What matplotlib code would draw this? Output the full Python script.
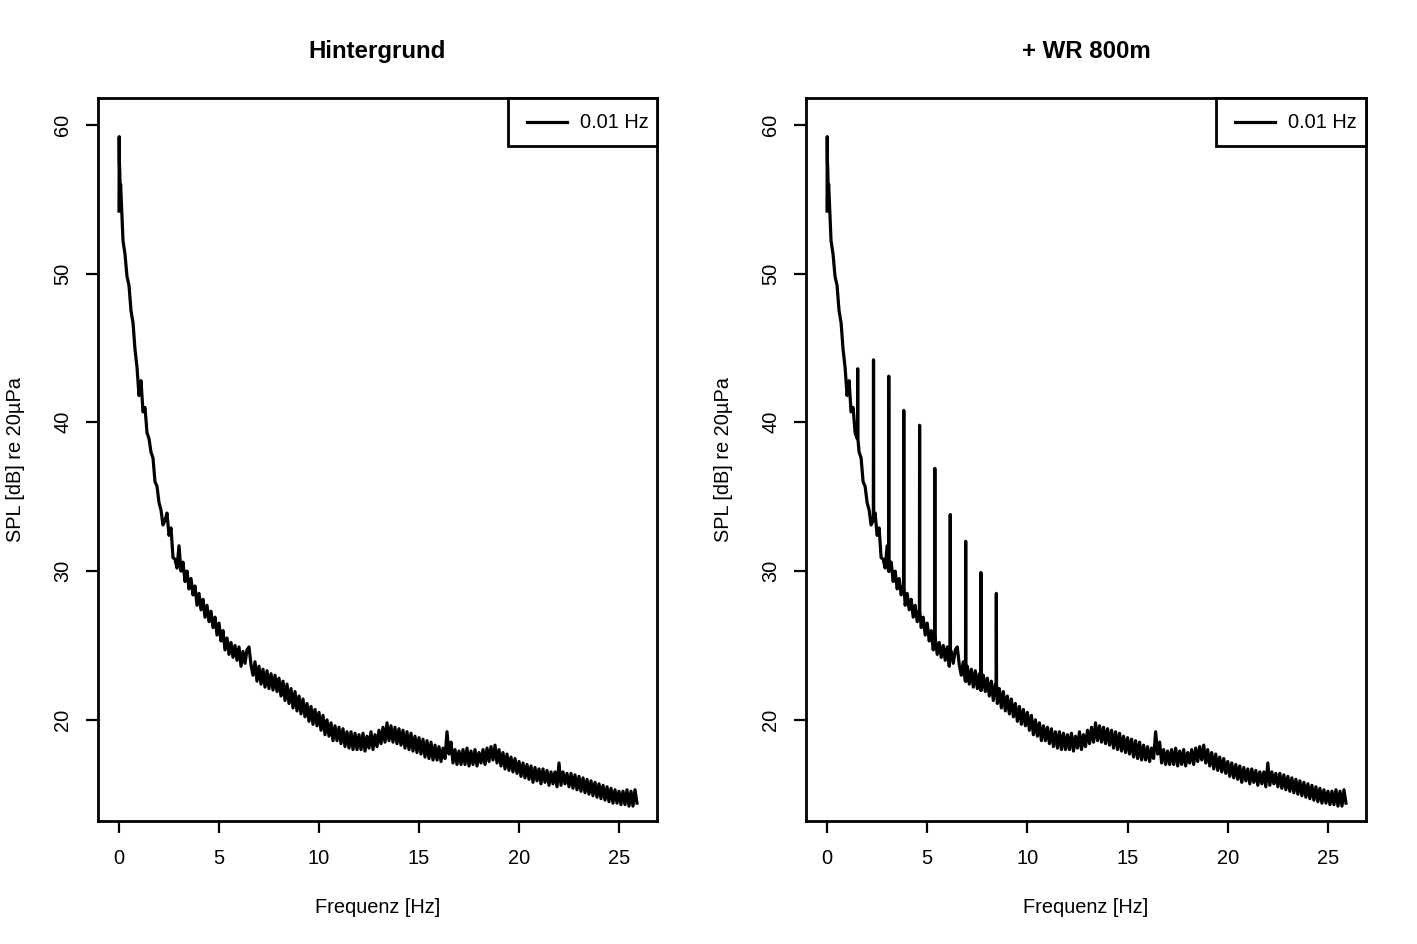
import numpy as np
import matplotlib
matplotlib.use("Agg")
import matplotlib.pyplot as plt
from matplotlib.lines import Line2D
from matplotlib.patches import Rectangle

plt.rcParams['font.family'] = ['Liberation Sans', 'DejaVu Sans']

# --- data ---
titles = ["Hintergrund", "+ WR 800m"]
legend_label = "0.01 Hz"
x_label = "Frequenz [Hz]"
y_label = "SPL [dB] re 20µPa"
x_ticks = [0, 5, 10, 15, 20, 25]
y_ticks = [20, 30, 40, 50, 60]

# lowest bins (Hz, dB)
low_freq = [0.00, 0.01, 0.02, 0.04, 0.06, 0.08]
low_level = [54.2, 59.2, 57.5, 56.8, 55.5, 56.0]

# background spectrum sampled every 0.1 Hz from 0.1 Hz upward
base_level = [
    55.4, 52.2, 51.3, 49.8, 49.2, 47.5, 46.7, 44.9, 43.7, 41.8,
    42.8, 40.7, 41.0, 39.3, 38.9, 38.0, 37.6, 36.0, 35.7, 34.6,
    34.1, 33.1, 33.4, 33.9, 32.4, 32.9, 30.9, 30.8, 30.2, 31.7,
    30.0, 30.6, 29.3, 30.0, 28.8, 29.5, 28.4, 29.0, 27.7, 28.5,
    27.4, 28.1, 26.9, 27.7, 26.6, 27.3, 26.2, 26.9, 25.7, 26.5,
    25.3, 26.0, 24.7, 25.5, 24.4, 25.2, 24.2, 25.0, 24.0, 24.9,
    23.6, 24.6, 23.8, 24.7, 24.9, 23.7, 23.0, 23.9, 22.6, 23.6,
    22.4, 23.4, 22.2, 23.3, 22.1, 23.1, 22.0, 23.0, 21.9, 22.8,
    21.6, 22.6, 21.3, 22.4, 21.1, 22.1, 20.8, 21.9, 20.6, 21.6,
    20.4, 21.4, 20.2, 21.1, 19.9, 20.9, 19.7, 20.7, 19.6, 20.5,
    19.3, 20.3, 19.0, 20.0, 18.9, 19.8, 18.6, 19.6, 18.6, 19.5,
    18.4, 19.4, 18.2, 19.2, 18.1, 19.2, 18.0, 19.1, 18.0, 19.0,
    18.0, 19.1, 17.9, 18.9, 18.1, 19.2, 18.0, 19.0, 18.2, 19.3,
    18.4, 19.5, 18.5, 19.8, 18.6, 19.6, 18.5, 19.5, 18.4, 19.4,
    18.3, 19.3, 18.1, 19.2, 18.0, 19.1, 17.9, 18.9, 17.8, 18.8,
    17.7, 18.7, 17.5, 18.6, 17.4, 18.5, 17.3, 18.3, 17.3, 18.2,
    17.2, 18.1, 17.4, 19.2, 17.7, 18.5, 17.1, 18.0, 17.0, 17.9,
    17.0, 18.0, 17.0, 18.1, 16.9, 17.9, 17.0, 18.0, 16.9, 17.8,
    17.1, 18.0, 17.0, 18.1, 17.2, 18.2, 17.3, 18.3, 17.1, 18.0,
    16.9, 17.8, 16.7, 17.7, 16.6, 17.5, 16.5, 17.4, 16.4, 17.2,
    16.2, 17.1, 16.1, 17.0, 16.0, 16.9, 15.8, 16.8, 15.9, 16.7,
    15.7, 16.7, 15.8, 16.6, 15.6, 16.5, 15.7, 16.5, 15.5, 17.1,
    15.6, 16.5, 15.7, 16.4, 15.5, 16.4, 15.4, 16.3, 15.3, 16.2,
    15.2, 16.1, 15.1, 16.0, 15.0, 15.9, 14.9, 15.8, 14.8, 15.7,
    14.7, 15.6, 14.6, 15.5, 14.5, 15.4, 14.4, 15.3, 14.4, 15.2,
    14.3, 15.2, 14.3, 15.3, 14.2, 15.2, 14.2, 15.3, 14.4,
]

# tonal peaks of the wind turbine (Hz, dB)
peak_freq = [1.53, 2.32, 3.08, 3.83, 4.62, 5.38, 6.15, 6.92, 7.68, 8.45]
peak_level = [43.6, 44.2, 43.1, 40.8, 39.8, 36.9, 33.8, 32.0, 29.9, 28.5]

# --- build series ---
base_freq = np.round(0.1 * np.arange(1, len(base_level) + 1), 2)
freq_bg = np.concatenate([low_freq, base_freq])
level_bg = np.concatenate([low_level, base_level])

f_list = list(freq_bg)
l_list = list(level_bg)
for pf, pl in zip(peak_freq, peak_level):
    idx = int(np.argmin(np.abs(freq_bg - pf)))
    b = level_bg[idx]
    f_list += [pf - 0.01, pf, pf + 0.01]
    l_list += [b, pl, b]
order = np.argsort(f_list, kind="stable")
freq_wr = np.array(f_list)[order]
level_wr = np.array(l_list)[order]

series = [(freq_bg, level_bg), (freq_wr, level_wr)]

# --- figure ---
W, H = 1417, 944
fig = plt.figure(figsize=(W / 100, H / 100), dpi=100)
boxes = [(98, 98, 657, 821), (806, 98, 1366, 821)]
fs = 14.4
for i, (x0, y0, x1, y1) in enumerate(boxes):
    aw, ah = x1 - x0, y1 - y0
    ax = fig.add_axes([x0 / W, (H - y1) / H, aw / W, ah / H])
    f, l = series[i]
    ax.plot(f, l, color="black", lw=2.3)
    ax.set_xlim(-1.05, 26.9)
    ax.set_ylim(13.2, 61.8)
    ax.set_xticks(x_ticks)
    ax.set_yticks(y_ticks)
    ax.tick_params(axis="both", direction="out", length=8.6, width=1.6,
                   labelsize=fs)
    ax.tick_params(axis="x", pad=11.5)
    ax.tick_params(axis="y", pad=10, labelrotation=90)
    for lab in ax.get_yticklabels():
        lab.set_verticalalignment("center")
    for sp in ax.spines.values():
        sp.set_linewidth(2.0)
    ax.set_xlabel(x_label, fontsize=fs, labelpad=22)
    ax.set_ylabel(y_label, fontsize=fs, labelpad=20)
    ax.set_title(titles[i], fontsize=17.3, fontweight="bold", pad=29)

    # legend drawn like R's legend box (top-right corner)
    lx0 = 410
    ax.add_patch(Rectangle((lx0 / aw, 1 - 48 / ah), 1 - lx0 / aw, 48 / ah,
                           transform=ax.transAxes, facecolor="white",
                           edgecolor="black", lw=2.0, zorder=5, clip_on=False))
    ax.add_line(Line2D([429 / aw, 469 / aw], [1 - 24 / ah, 1 - 24 / ah],
                       transform=ax.transAxes, color="black", lw=2.3, zorder=6))
    ax.text(482 / aw, 1 - 25 / ah, legend_label, transform=ax.transAxes,
            fontsize=fs, va="center", ha="left", zorder=6)

fig.savefig("out.png", dpi=100)
